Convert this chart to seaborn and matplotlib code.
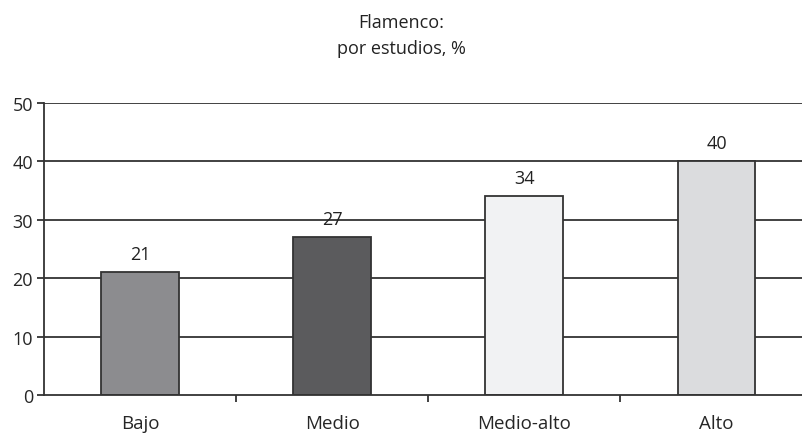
import seaborn as sns
import matplotlib.pyplot as plt
import pandas as pd

# datos
categorias = ['Bajo', 'Medio', 'Medio-alto', 'Alto']
valores = [21, 27, 34, 40]
colores = ['#8b8c8f', '#5b5b5d', '#f1f2f3', '#dbdcde']

df = pd.DataFrame({'estudios': categorias, 'pct': valores})

sns.set_style('white')
plt.rcParams['font.family'] = ['Open Sans', 'DejaVu Sans']

fig = plt.figure(figsize=(8.03, 4.35), dpi=100)
ax = fig.add_axes([44 / 803, 1 - 396 / 435, 1 - 44 / 803, (396 - 104) / 435])

# líneas de rejilla
for y in [10, 20, 30, 40, 50]:
    ax.axhline(y, color='#333333', lw=1.3, zorder=0)

sns.barplot(data=df, x='estudios', y='pct', hue='estudios', palette=colores,
            legend=False, width=0.405, edgecolor='#333333', linewidth=1.3,
            ax=ax, zorder=2)

# etiquetas de valor
for i, v in enumerate(valores):
    ax.text(i, v + 2.3, str(v), ha='center', va='baseline', fontsize=13, color='#222222')

ax.set_ylim(0, 50)
ax.set_xlim(-0.5, 3.45)
ax.set_yticks([0, 10, 20, 30, 40, 50])
ax.set_xlabel('')
ax.set_ylabel('')

for s in ['top', 'right']:
    ax.spines[s].set_visible(False)
for s in ['left', 'bottom']:
    ax.spines[s].set_color('#333333')
    ax.spines[s].set_linewidth(1.3)

ax.tick_params(axis='y', left=True, length=5, width=1.3, color='#333333', labelsize=13, pad=3)
ax.tick_params(axis='x', length=0, labelsize=13.5, pad=14)
ax.set_xticks([0.5, 1.5, 2.5], minor=True)
ax.tick_params(axis='x', which='minor', bottom=True, length=5, width=1.3,
               color='#333333', direction='out')

fig.text(0.5, 0.968, 'Flamenco:\npor estudios, %', ha='center', va='top',
         fontsize=13, color='#222222', linespacing=1.6)

plt.savefig('out.png', dpi=100)
